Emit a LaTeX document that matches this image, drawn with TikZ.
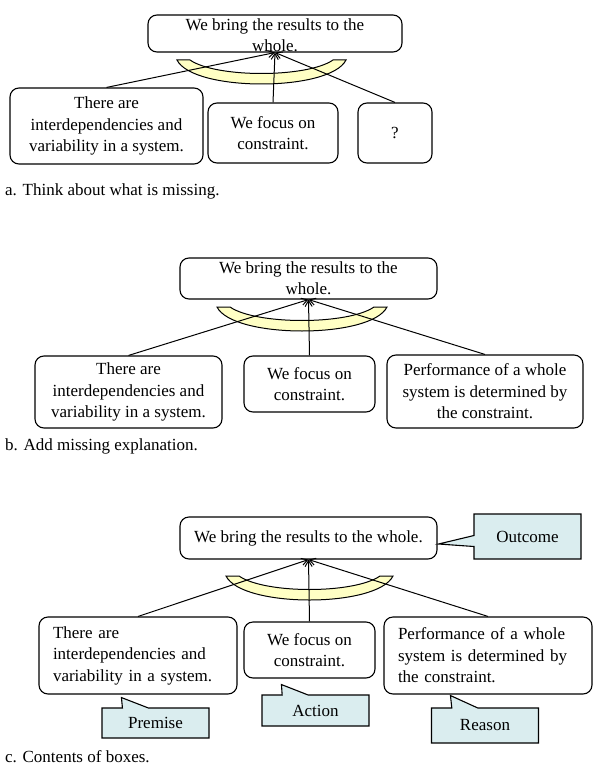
\documentclass[tikz,border=0pt]{standalone}
\usepackage{fontspec}
\setmainfont{Liberation Serif}
\usepackage{tikz}
\usetikzlibrary{arrows.meta,shapes.callouts}
\definecolor{bandfill}{HTML}{FFFFC4}
\definecolor{tagfill}{HTML}{DAEDEF}
\newcommand\boxfont{\fontsize{17}{21.5}\selectfont}
\tikzset{
  box/.style={draw, line width=1.1pt, rounded corners=9pt, align=center, font=\boxfont},
  lbox/.style={box, align=left},
  band/.style={draw, line width=1pt, fill=bandfill},
  link/.style={line width=1pt, -{Straight Barb[length=6pt,width=7pt]}},
  tag/.style={rectangle callout, draw, line width=1.1pt, fill=tagfill, font=\boxfont,
    minimum width=107pt, callout pointer width=26pt},
  caption/.style={anchor=base west, inner sep=0pt, font=\boxfont}
}
\begin{document}
\begin{tikzpicture}[x=1pt, y=-1pt]
\useasboundingbox (0,0) rectangle (594,767);

% a. missing box
\node[box, inner sep=0pt, minimum width=254pt] (topA) at (275,33.5)
  {\parbox[c][37pt][t]{254pt}{\centering\strut We bring the results to the\\ whole.}};
\node[box, minimum width=193pt, minimum height=76pt] (premA) at (106.5,126)
  {There are\\ interdependencies and\\ variability in a system.};
\node[box, minimum width=130pt, minimum height=60pt] (actA) at (273,133)
  {We focus on\\ constraint.};
\node[box, minimum width=74pt, minimum height=60pt] (whyA) at (395,133) {?};
\node[caption] (capA) at (5,196) {a. Think about what is missing.};

% b. explanation added
\node[box, inner sep=0pt, minimum width=257pt] (topB) at (308.5,278.5)
  {\parbox[c][41pt][t]{257pt}{\centering\strut We bring the results to the\\ whole.}};
\node[box, minimum width=187pt, minimum height=72pt] (premB) at (128.5,392)
  {There are\\ interdependencies and\\ variability in a system.};
\node[box, minimum width=131pt, minimum height=56pt] (actB) at (309.5,384)
  {We focus on\\ constraint.};
\node[box, minimum width=196pt, minimum height=73pt] (whyB) at (485,391.5)
  {Performance of a whole\\ system is determined by\\ the constraint.};
\node[caption] (capB) at (5,450.5) {b. Add missing explanation.};

% c. labelled boxes
\node[box, minimum width=257pt, minimum height=42pt] (topC) at (308.5,538)
  {We bring the results to the whole.};
\node[lbox, text width=170pt, minimum width=198pt, minimum height=77pt] (premC) at (138,655.5)
  {There are\\ interdependencies and\\ variability in a system.};
\node[box, minimum width=131pt, minimum height=56pt] (actC) at (309.5,650)
  {We focus on\\ constraint.};
\node[lbox, text width=180pt, minimum width=208pt, minimum height=77pt] (whyC) at (488,655.5)
  {Performance of a whole\\ system is determined by\\ the constraint.};
\node[caption] (capC) at (5,762) {c. Contents of boxes.};

% callouts
\node[tag, minimum height=45pt, callout pointer width=11pt,
  callout absolute pointer={([xshift=1pt,yshift=-6pt]topC.east)}] (outcome) at (527.5,536.5) {Outcome};
\node[tag, minimum height=30pt,
  callout absolute pointer={([xshift=83pt,yshift=-3pt]premC.south west)}] (premise) at (155.5,723) {Premise};
\node[tag, minimum height=31pt,
  callout absolute pointer={([xshift=38pt,yshift=-6pt]actC.south west)}] (action) at (315.5,710.5) {Action};
\node[tag, minimum height=35pt,
  callout absolute pointer={([xshift=67pt,yshift=-1pt]whyC.south west)}] (reason) at (485,725.5) {Reason};

% bands
\foreach \xl/\xr/\yt in {177/346/60, 217/387/307, 226/393/576}
  \draw[band] (\xl,\yt) .. controls +(16,32) and +(-16,32) .. (\xr,\yt) -- ++(-13,0)
    .. controls +(-26,18) and +(26,18) .. (\xl+13,\yt) -- cycle;

% links
\foreach \s in {A,B,C}
  \foreach \n in {prem,act,why}
    \draw[link] (\n\s.north) -- (top\s.south);
\end{tikzpicture}
\end{document}
